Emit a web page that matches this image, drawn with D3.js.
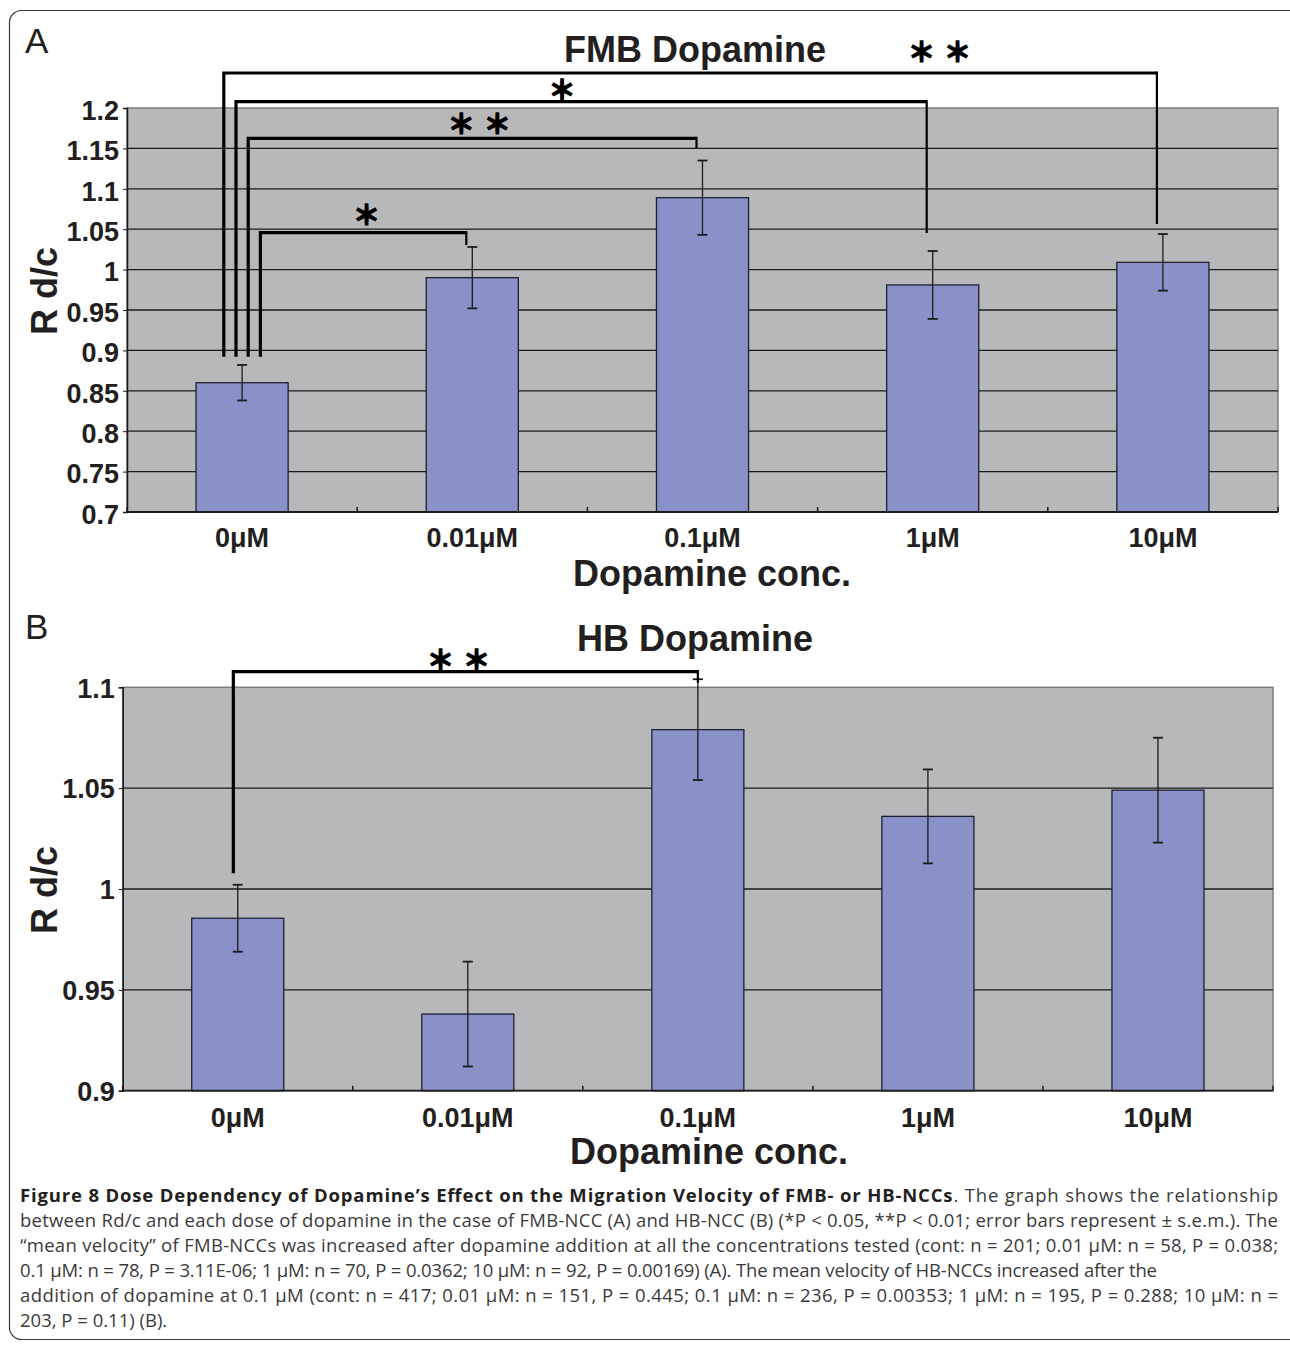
<!DOCTYPE html>
<html>
<head>
<meta charset="utf-8">
<script src="https://cdn.jsdelivr.net/npm/d3@7"></script>
<style>
body { margin: 0; background: #fff; }
svg { display: block; }
</style>
</head>
<body>
<svg id="fig"></svg>
<script>
var width = 1290;
var height = 1346;

var categories = ['0μM', '0.01μM', '0.1μM', '1μM', '10μM'];

// panel A, FMB
var fmbMean = [0.86, 0.99, 1.089, 0.981, 1.009];
var fmbErr = [0.022, 0.038, 0.046, 0.042, 0.035];
var fmbTicks = [0.7, 0.75, 0.8, 0.85, 0.9, 0.95, 1, 1.05, 1.1, 1.15, 1.2];
// brackets: bars joined, bracket level, right leg end, left leg end, stars, star place
var fmbSig = [
    {from: 0, to: 4, level: 1.2433, end: 1.0564, base: 0.892, stars: 2, at: 3.03, starY: 1.2697},
    {from: 0, to: 3, level: 1.2078, end: 1.0453, base: 0.892, stars: 1, at: 1.39, starY: 1.2223},
    {from: 0, to: 2, level: 1.1625, end: 1.1505, base: 0.892, stars: 2, at: 1.03, starY: 1.1808},
    {from: 0, to: 1, level: 1.0457, end: 1.0304, base: 0.892, stars: 1, at: 0.54, starY: 1.0676}
];

// panel B, HB
var hbMean = [0.9855, 0.938, 1.079, 1.036, 1.049];
var hbErr = [0.0166, 0.026, 0.025, 0.0233, 0.026];
var hbTicks = [0.9, 0.95, 1, 1.05, 1.1];
var hbSig = [
    {from: 0, to: 2, level: 1.1078, end: 1.1022, base: 1.0078, stars: 2, at: 0.96, starY: 1.1136}
];

var captionBold = 'Figure 8 Dose Dependency of Dopamine\u2019s Effect on the Migration Velocity of FMB- or HB-NCCs';
var captionLines = [
    '. The graph shows the relationship',
    'between Rd/c and each dose of dopamine in the case of FMB-NCC (A) and HB-NCC (B) (*P < 0.05, **P < 0.01; error bars represent \u00b1 s.e.m.). The',
    '\u201cmean velocity\u201d of FMB-NCCs was increased after dopamine addition at all the concentrations tested (cont: n = 201; 0.01 \u03bcM: n = 58, P = 0.038;',
    '0.1 \u03bcM: n = 78, P = 3.11E-06; 1 \u03bcM: n = 70, P = 0.0362; 10 \u03bcM: n = 92, P = 0.00169) (A). The mean velocity of HB-NCCs increased after the',
    'addition of dopamine at 0.1 \u03bcM (cont: n = 417; 0.01 \u03bcM: n = 151, P = 0.445; 0.1 \u03bcM: n = 236, P = 0.00353; 1 \u03bcM: n = 195, P = 0.288; 10 \u03bcM: n =',
    '203, P = 0.11) (B).'
];

var font = '"Liberation Sans", Arial, Helvetica, sans-serif';

var svg = d3.select('#fig')
    .attr('width', width)
    .attr('height', height);

// outer frame
svg.append('rect')
    .attr('x', 9.5).attr('y', 10.5)
    .attr('width', 1300).attr('height', 1329)
    .attr('rx', 12)
    .style('fill', 'none')
    .style('stroke', '#3a3a3a')
    .style('stroke-width', 1.2);

function drawPanel(opt) {
    var g = svg.append('g');
    var x = d3.scaleBand()
        .domain(categories)
        .range([opt.left, opt.right])
        .paddingInner(0.6)
        .paddingOuter(0.3);
    var y = d3.scaleLinear()
        .domain(d3.extent(opt.ticks))
        .range([opt.bottom, opt.top]);

    // panel letter + title
    g.append('text')
        .attr('x', 25).attr('y', opt.letterY)
        .style('font-family', font).style('font-size', '35px')
        .style('fill', '#231f20')
        .text(opt.letter);
    g.append('text')
        .attr('x', opt.titleX).attr('y', opt.titleY)
        .attr('text-anchor', 'middle')
        .style('font-family', font).style('font-size', '36px').style('font-weight', 'bold')
        .style('fill', '#231f20')
        .text(opt.title);

    // plot background
    g.append('rect')
        .attr('x', opt.left).attr('y', opt.top)
        .attr('width', opt.right - opt.left).attr('height', opt.bottom - opt.top)
        .style('fill', '#b7b8ba')
        .style('stroke', '#7d7d7d')
        .style('stroke-width', 1.5);

    // gridlines
    g.selectAll('.grid')
        .data(opt.ticks.slice(1, -1))
        .enter().append('line')
        .attr('x1', opt.left).attr('x2', opt.right)
        .attr('y1', function(d){ return y(d); })
        .attr('y2', function(d){ return y(d); })
        .style('stroke', '#1b1b1b')
        .style('stroke-width', 1.3);

    // y axis
    var yAxis = d3.axisLeft(y)
        .tickValues(opt.ticks)
        .tickSize(4)
        .tickPadding(4)
        .tickFormat(function(d){ return String(+d.toFixed(2)); });
    var ya = g.append('g')
        .attr('transform', 'translate(' + opt.left + ',0)')
        .call(yAxis);
    ya.select('.domain').style('stroke', '#1b1b1b').style('stroke-width', 1.5);
    ya.selectAll('.tick line').style('stroke', '#1b1b1b');
    ya.selectAll('.tick text')
        .attr('dy', opt.tickDy)
        .style('font-family', font).style('font-size', '27px').style('font-weight', 'bold')
        .style('fill', '#231f20');

    // bars
    var data = categories.map(function(c, i){ return {cat: c, v: opt.mean[i], e: opt.err[i]}; });
    g.selectAll('.bar')
        .data(data)
        .enter().append('rect')
        .attr('x', function(d){ return x(d.cat); })
        .attr('y', function(d){ return y(d.v); })
        .attr('width', x.bandwidth())
        .attr('height', function(d){ return y(opt.ticks[0]) - y(d.v); })
        .style('fill', '#8a91c8')
        .style('stroke', '#1f1f30')
        .style('stroke-width', 1.3);

    // bottom axis with category boundary ticks
    g.append('line')
        .attr('x1', opt.left).attr('x2', opt.right)
        .attr('y1', opt.bottom).attr('y2', opt.bottom)
        .style('stroke', '#1b1b1b').style('stroke-width', 1.8);
    var step = x.step();
    g.selectAll('.xtick')
        .data(d3.range(categories.length + 1))
        .enter().append('line')
        .attr('x1', function(k){ return opt.left + k * step; })
        .attr('x2', function(k){ return opt.left + k * step; })
        .attr('y1', opt.bottom).attr('y2', opt.bottom - 5)
        .style('stroke', '#1b1b1b').style('stroke-width', 1.5);
    g.selectAll('.xlab')
        .data(categories)
        .enter().append('text')
        .attr('x', function(d){ return x(d) + x.bandwidth() / 2; })
        .attr('y', opt.xLabelY)
        .attr('text-anchor', 'middle')
        .style('font-family', font).style('font-size', '27px').style('font-weight', 'bold')
        .style('fill', '#231f20')
        .text(function(d){ return d; });

    // error bars
    var eb = g.selectAll('.err').data(data).enter().append('g')
        .style('stroke', '#1b1b1b').style('stroke-width', 1.3);
    eb.append('line')
        .attr('x1', function(d){ return x(d.cat) + x.bandwidth() / 2; })
        .attr('x2', function(d){ return x(d.cat) + x.bandwidth() / 2; })
        .attr('y1', function(d){ return y(d.v + d.e); })
        .attr('y2', function(d){ return y(d.v - d.e); });
    [1, -1].forEach(function(s){
        eb.append('line')
            .attr('x1', function(d){ return x(d.cat) + x.bandwidth() / 2 - 5; })
            .attr('x2', function(d){ return x(d.cat) + x.bandwidth() / 2 + 5; })
            .attr('y1', function(d){ return y(d.v + s * d.e); })
            .attr('y2', function(d){ return y(d.v + s * d.e); })
            .style('stroke-width', 1.8);
    });

    // axis titles
    g.append('text')
        .attr('transform', 'translate(' + opt.yTitleX + ',' + opt.yTitleY + ') rotate(-90)')
        .attr('text-anchor', 'middle')
        .style('font-family', font).style('font-size', '36px').style('font-weight', 'bold')
        .style('fill', '#231f20')
        .text('R d/c');
    g.append('text')
        .attr('x', opt.xTitleX).attr('y', opt.xTitleY)
        .attr('text-anchor', 'middle')
        .style('font-family', font).style('font-size', '36px').style('font-weight', 'bold')
        .style('fill', '#231f20')
        .text('Dopamine conc.');

    // significance brackets
    var n = opt.sig.length;
    opt.sig.forEach(function(s, k){
        var cx0 = x(categories[s.from]) + x.bandwidth() / 2;
        var x0 = cx0 + (k - (n - 1) / 2) * 12.2 + opt.legShift;
        var x1 = x(categories[s.to]) + x.bandwidth() / 2 + opt.endShift;
        g.append('path')
            .attr('d', 'M' + x0 + ',' + y(s.base) + 'V' + y(s.level) + 'H' + x1)
            .style('fill', 'none').style('stroke', '#000').style('stroke-width', 3.2);
        g.append('line')
            .attr('x1', x1).attr('x2', x1)
            .attr('y1', y(s.level) - 1.5).attr('y2', y(s.end))
            .style('stroke', '#000').style('stroke-width', 2.2);
        var sx = opt.left + (s.at + 0.5) * step;
        var starXs = s.stars === 1 ? [sx] : [sx - 18, sx + 18];
        starXs.forEach(function(px){
            g.append('text')
                .attr('x', px).attr('y', y(s.starY) + 10)
                .attr('text-anchor', 'middle')
                .style('font-family', '"Noto Sans CJK JP", sans-serif')
                .style('font-size', '27px').style('font-weight', 'bold')
                .style('fill', '#000')
                .style('stroke', '#000').style('stroke-width', 1.6)
                .text('\uff0a');
        });
    });
}

drawPanel({
    letter: 'A', letterY: 53, title: 'FMB Dopamine', titleX: 695, titleY: 62,
    left: 127, right: 1278, top: 108, bottom: 512,
    ticks: fmbTicks, mean: fmbMean, err: fmbErr, sig: fmbSig,
    tickDy: '0.42em', xLabelY: 547, xTitleX: 712, xTitleY: 586,
    yTitleX: 57, yTitleY: 291, legShift: 0, endShift: -6
});

drawPanel({
    letter: 'B', letterY: 639, title: 'HB Dopamine', titleX: 695, titleY: 651,
    left: 122.7, right: 1273, top: 687.3, bottom: 1090.7,
    ticks: hbTicks, mean: hbMean, err: hbErr, sig: hbSig,
    tickDy: '0.36em', xLabelY: 1127, xTitleX: 709, xTitleY: 1164,
    yTitleX: 57, yTitleY: 890, legShift: -4.4, endShift: 0
});

// caption
var capFont = '"Open Sans", "Noto Sans", sans-serif';
var lineW = [1258, 1258, 1258, 1137, 1258, null];
captionLines.forEach(function(t, i){
    var tx = svg.append('text')
        .attr('x', 20).attr('y', 1202 + i * 25)
        .style('font-family', capFont).style('font-size', '18.5px')
        .style('fill', '#3a3a3a');
    if (lineW[i]) tx.attr('textLength', lineW[i]).attr('lengthAdjust', 'spacing');
    if (i === 0) {
        tx.append('tspan').style('font-weight', 'bold').style('fill', '#231f20').text(captionBold);
    }
    tx.append('tspan').text(t);
});
</script>
</body>
</html>
